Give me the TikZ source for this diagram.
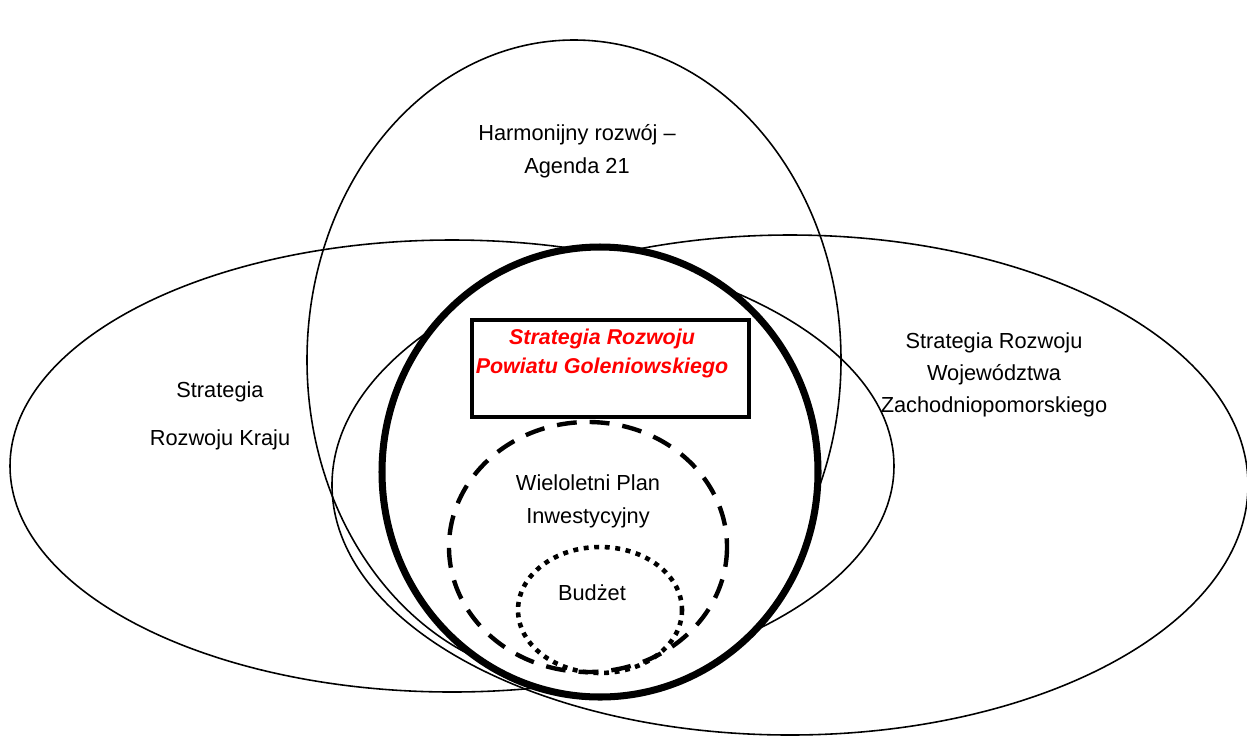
\documentclass[tikz,border=0pt]{standalone}
\usepackage{fontspec}
\setmainfont{Liberation Sans}
\usepackage{tikz}

\begin{document}
\begin{tikzpicture}[x=0.02cm, y=-0.02cm]
    \tikzstyle{thinline} = [draw, line width=0.9pt]
    \tikzstyle{txt} = [align=center, inner sep=0pt, font=\fontsize{12.4}{18.6}\selectfont]
    \tikzstyle{powbox} = [rectangle, draw, line width=2.8pt, fill=white, inner sep=0pt, minimum width=5.54cm, minimum height=1.94cm]

    \useasboundingbox (0,0) rectangle (1247,738);

    % Strategies
    \draw[thinline] (574,360) ellipse [x radius=267, y radius=320];
    \draw[thinline] (452,466) ellipse [x radius=442, y radius=226];
    \draw[thinline] (790,485) ellipse [x radius=458, y radius=250];

    % Powiat
    \draw[line width=4pt, fill=white] (600,472) ellipse [x radius=218, y radius=225];
    \node[powbox] (powiat) at (610.5,368.5) {};

    % Plan and budget
    \draw[line width=2.5pt, dash pattern=on 11.3pt off 7.4pt] (588,547) ellipse [x radius=139, y radius=125];
    \draw[line width=2.6pt, dash pattern=on 2.8pt off 3.2pt] (600,610) ellipse [x radius=82, y radius=63];

    % Labels
    \node[txt] (agenda) at (577,151.5) {Harmonijny rozwój –\\Agenda 21};
    \node[txt, font=\fontsize{12.4}{27.2}\selectfont] (kraj) at (220,416) {Strategia\\Rozwoju Kraju};
    \node[txt, font=\fontsize{12.4}{18.1}\selectfont] (woj) at (994,375) {Strategia Rozwoju\\Województwa\\Zachodniopomorskiego};
    \node[txt, text=red, font=\fontsize{12.2}{16.4}\selectfont\bfseries\itshape] (powtxt) at (602,353.5) {Strategia Rozwoju\\Powiatu Goleniowskiego};
    \node[txt] (wpi) at (588,501.5) {Wieloletni Plan\\Inwestycyjny};
    \node[txt] (budzet) at (592,593) {Budżet};

\end{tikzpicture}
\end{document}
